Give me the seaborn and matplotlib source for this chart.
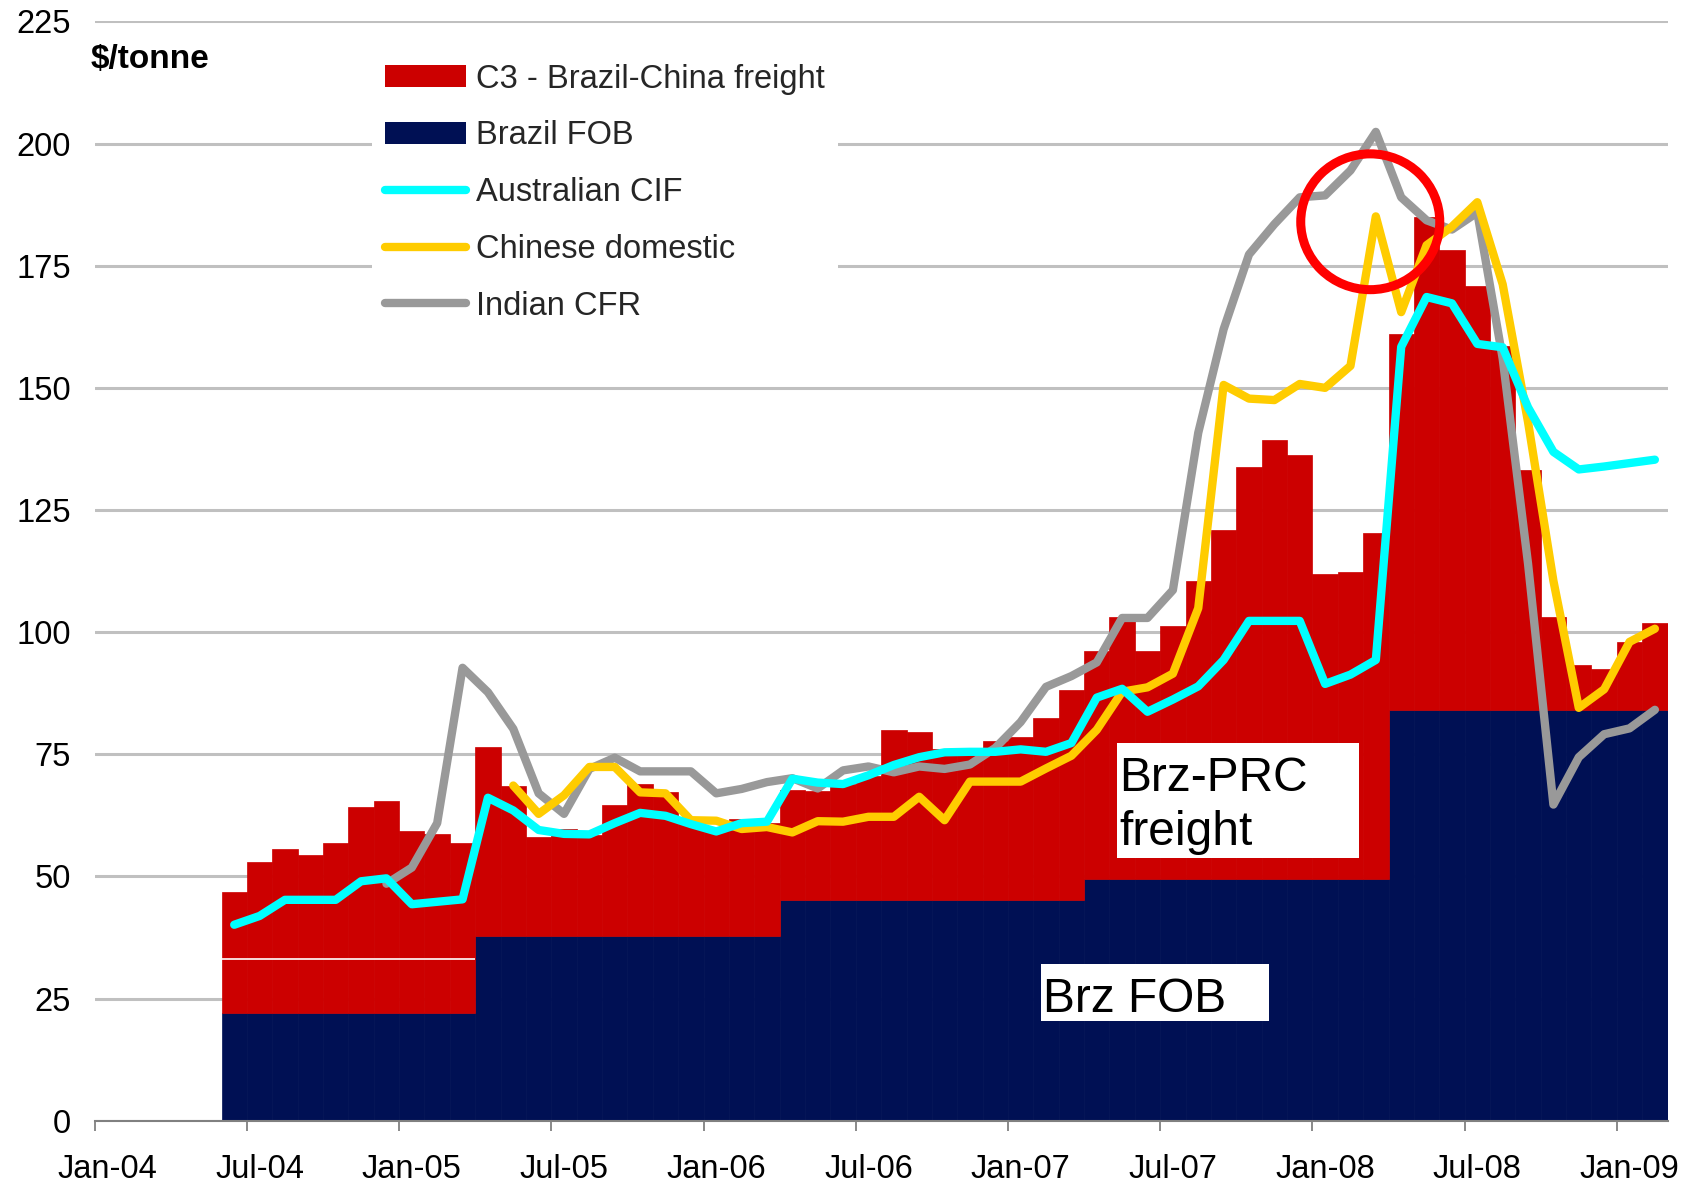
import numpy as np
import pandas as pd
import matplotlib
matplotlib.use("Agg")
import matplotlib.pyplot as plt
from matplotlib.patches import Rectangle, Ellipse, Patch
from matplotlib.lines import Line2D
import seaborn as sns

# Monthly iron ore price build-up, $/tonne (Jun-04 .. Feb-09)
months = pd.period_range("2004-06", "2009-02", freq="M")

brazil_fob = [
    22.0, 22.0, 22.0, 22.0, 22.0, 22.0, 22.0, 22.0, 22.0, 22.0,
    37.7, 37.7, 37.7, 37.7, 37.7, 37.7, 37.7, 37.7, 37.7, 37.7, 37.7, 37.7,
    45.1, 45.1, 45.1, 45.1, 45.1, 45.1, 45.1, 45.1, 45.1, 45.1, 45.1, 45.1,
    49.4, 49.4, 49.4, 49.4, 49.4, 49.4, 49.4, 49.4, 49.4, 49.4, 49.4, 49.4,
    84.0, 84.0, 84.0, 84.0, 84.0, 84.0, 84.0, 84.0, 84.0, 84.0, 84.0,
]

c3_freight = [
    24.8, 30.9, 33.6, 32.4, 34.9, 42.2, 43.4, 37.3, 36.7, 34.9,
    38.7, 30.7, 20.4, 22.1, 20.8, 27.0, 31.3, 29.5, 23.3, 22.3, 24.0, 23.3,
    22.6, 22.3, 23.9, 25.4, 34.9, 34.4, 30.9, 31.2, 32.6, 33.4, 37.4, 43.0,
    46.7, 53.7, 46.7, 51.8, 61.0, 71.5, 84.5, 89.9, 86.8, 62.4, 62.9, 70.8,
    77.0, 101.0, 94.2, 86.8, 74.5, 49.1, 19.1, 9.2, 8.5, 14.0, 17.8,
]

australian_cif = [
    40.1, 41.9, 45.2, 45.2, 45.2, 49.0, 49.6, 44.3, 44.8, 45.3,
    66.1, 63.5, 59.5, 58.7, 58.6, 60.9, 63.0, 62.4, 60.7, 59.2, 60.9, 61.2,
    70.0, 69.2, 68.9, 70.7, 72.8, 74.4, 75.4, 75.5, 75.5, 76.0, 75.5, 77.3,
    86.6, 88.4, 83.7, 86.2, 88.9, 94.3, 102.3, 102.3, 102.3, 89.4, 91.3, 94.3,
    158.4, 168.6, 167.3, 159.0, 158.3, 146.0, 136.9, 133.3, 133.9, 134.6, 135.3,
]

chinese_domestic = [
    None, None, None, None, None, None, None, None, None, None,
    None, 68.6, 62.8, 66.6, 72.4, 72.4, 67.2, 67.0, 61.5, 61.4, 59.7, 60.1,
    59.0, 61.3, 61.2, 62.2, 62.2, 66.3, 61.5, 69.4, 69.4, 69.4, 72.1, 74.7,
    80.0, 87.8, 88.7, 91.5, 104.9, 150.6, 147.8, 147.5, 150.8, 150.0, 154.5, 185.1,
    165.5, 179.2, 183.0, 188.0, 171.2, 143.0, 110.5, 84.5, 88.3, 98.0, 100.7,
]

indian_cfr = [
    None, None, None, None, None, None, 48.5, 51.8, 60.9, 92.7,
    87.7, 80.2, 67.0, 62.8, 72.0, 74.3, 71.5, 71.5, 71.5, 67.0, 67.9, 69.3,
    70.1, 68.0, 71.7, 72.5, 71.3, 72.5, 72.0, 72.9, 76.3, 81.6, 88.8, 91.0,
    93.8, 102.9, 102.9, 108.6, 140.8, 162.0, 177.3, 183.5, 189.0, 189.4, 194.5, 202.4,
    189.0, 184.3, 182.4, 185.9, 156.0, 114.0, 64.7, 74.4, 79.1, 80.3, 84.1,
]

tick_labels = ["Jan-04", "Jul-04", "Jan-05", "Jul-05", "Jan-06", "Jul-06",
               "Jan-07", "Jul-07", "Jan-08", "Jul-08", "Jan-09"]

# split line inside the early freight block
early_split_level = 33.0

RED = "#CC0000"
NAVY = "#001054"
CYAN = "#00FFFF"
YELLOW = "#FFCC00"
GREY = "#999999"
LW = 6.0

sns.set_theme(style="white")
plt.rcParams["font.family"] = ["Liberation Sans", "DejaVu Sans"]

# month slots: Jan-04 occupies [0, 1], values sit at slot centres
pos = np.array([(m.year - 2004) * 12 + m.month - 1 for m in months]) + 0.5

fig = plt.figure(figsize=(16.88, 11.86), dpi=100)
ax = fig.add_axes([0.0561, 0.0551, 0.9318, 0.9268])

fob = np.array(brazil_fob)
frt = np.array(c3_freight)
ax.bar(pos, fob, width=1.0, color=NAVY, edgecolor=NAVY, linewidth=0.5, zorder=2)
ax.bar(pos, frt, bottom=fob, width=1.0, color=RED, edgecolor=RED, linewidth=0.5, zorder=2)
first_block = pos[fob == fob[0]]
ax.hlines(early_split_level, first_block.min() - 0.5, first_block.max() + 0.5,
          colors="white", linewidth=1.2, zorder=3)

lines = pd.DataFrame({
    "pos": np.concatenate([pos, pos, pos]),
    "value": np.array(indian_cfr + chinese_domestic + australian_cif, dtype=float),
    "series": ["Indian CFR"] * len(pos) + ["Chinese domestic"] * len(pos)
              + ["Australian CIF"] * len(pos),
})
sns.lineplot(data=lines.dropna(), x="pos", y="value", hue="series",
             hue_order=["Indian CFR", "Chinese domestic", "Australian CIF"],
             palette={"Indian CFR": GREY, "Chinese domestic": YELLOW,
                      "Australian CIF": CYAN},
             linewidth=LW, sort=False, legend=False, ax=ax, zorder=4,
             solid_capstyle="round", solid_joinstyle="round")

# axes, grid and ticks
ax.set_xlim(0, 62)
ax.set_ylim(0, 225)
ax.set_yticks(np.arange(0, 226, 25))
ax.grid(axis="y", color="#C0C0C0", linewidth=2.2)
ax.grid(axis="x", visible=False)
ax.set_axisbelow(True)
for side in ("left", "right", "top"):
    ax.spines[side].set_visible(False)
ax.spines["bottom"].set_color("#808080")
ax.spines["bottom"].set_linewidth(1.5)
ax.spines["bottom"].set_zorder(5)

ax.set_xticks(np.arange(0, 61, 6))
ax.set_xticklabels([])
ax.set_xticks(np.arange(0, 61, 6) + 0.5, minor=True)
ax.set_xticklabels(tick_labels, minor=True)
ax.tick_params(axis="x", which="major", bottom=True, length=7.5, width=1.3,
               color="#808080", direction="out")
ax.tick_params(axis="x", which="minor", bottom=True, length=0, pad=24,
               labelsize=23.5, labelcolor="black")
ax.tick_params(axis="y", left=False, length=0, pad=17, labelsize=23.5,
               labelcolor="black")
ax.set_xlabel("")
ax.set_ylabel("")

ax.text(-0.15, 217.3, r"\$/tonne", fontsize=24, fontweight="bold",
        ha="left", va="center", color="black")

# labelled blocks
ax.add_patch(Rectangle((40.3, 53.8), 9.55, 23.6, facecolor="white",
                       edgecolor="none", zorder=6))
ax.text(40.4, 67.4, "Brz-PRC", fontsize=34.5, ha="left", va="baseline",
        color="black", zorder=7)
ax.text(40.4, 56.4, "freight", fontsize=34.5, ha="left", va="baseline",
        color="black", zorder=7)
ax.add_patch(Rectangle((37.3, 20.3), 9.0, 11.7, facecolor="white",
                       edgecolor="none", zorder=6))
ax.text(37.4, 22.3, "Brz FOB", fontsize=34.5, ha="left", va="baseline",
        color="black", zorder=7)

# highlight ring around the spring-2008 spike
ax.add_patch(Ellipse((50.28, 184.0), 5.48, 27.8, fill=False,
                     edgecolor="#FF0000", linewidth=6.5, zorder=8))

handles = [
    Patch(facecolor=RED, edgecolor="none"),
    Patch(facecolor=NAVY, edgecolor="none"),
    Line2D([], [], color=CYAN, linewidth=LW, solid_capstyle="round"),
    Line2D([], [], color=YELLOW, linewidth=LW, solid_capstyle="round"),
    Line2D([], [], color=GREY, linewidth=LW, solid_capstyle="round"),
]
labels = ["C3 - Brazil-China freight", "Brazil FOB", "Australian CIF",
          "Chinese domestic", "Indian CFR"]
leg = ax.legend(handles, labels, loc="upper left", bbox_to_anchor=(0.176, 0.9735),
                fontsize=23.5, frameon=True, facecolor="white", edgecolor="none",
                framealpha=1, fancybox=False, handlelength=2.5, handleheight=0.68,
                handletextpad=0.3, labelspacing=0.79, borderpad=0.4,
                borderaxespad=0)
leg.set_zorder(9)

fig.savefig("out.png", dpi=100)
